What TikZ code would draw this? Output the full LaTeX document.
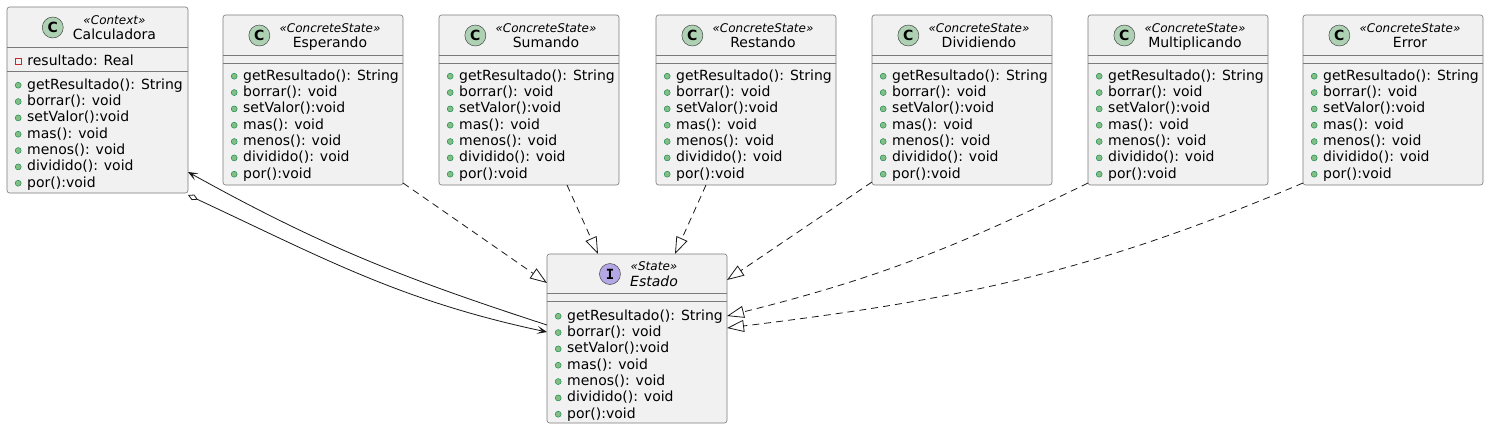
\documentclass[tikz,border=0pt]{standalone}
\usepackage{fontspec}
\setmainfont{DejaVu Sans}
\setmonofont{DejaVu Sans Mono}
\usetikzlibrary{arrows.meta, positioning, calc}
\definecolor{borde}{HTML}{181818}
\definecolor{bordecaja}{HTML}{7A7A7A}
\definecolor{fondo}{HTML}{F1F1F1}
\definecolor{verdeclase}{HTML}{ADD1B2}
\definecolor{lilainterfaz}{HTML}{B4A7E5}
\definecolor{verdepub}{HTML}{84BE84}
\definecolor{bordepub}{HTML}{038048}
\definecolor{rojopriv}{HTML}{C82930}
\tikzset{
    caja/.style = {draw=bordecaja, fill=fondo, line width=0.6pt, rounded corners=2.5pt, rectangle, minimum width=180pt, outer sep=0pt, inner sep=0pt},
    linea/.style = {draw=bordecaja, line width=0.6pt},
    estereo/.style = {font=\fontsize{12}{14}\selectfont\itshape, inner sep=0pt, anchor=base},
    nombre/.style = {font=\fontsize{14}{16}\selectfont, inner sep=0pt, anchor=base},
    clase/.style = {circle, draw=borde!80, line width=0.5pt, fill=verdeclase, minimum size=21pt, inner sep=0pt, font=\fontsize{14}{14}\selectfont\bfseries},
    interfaz/.style = {clase, fill=lilainterfaz, font=\fontsize{14}{14}\selectfont\ttfamily\bfseries},
    miembros/.style = {font=\fontsize{14}{16.33}\selectfont, align=left, inner sep=0pt, anchor=north west},
    asocia/.style = {draw=borde, line width=0.8pt},
    realiza/.style = {asocia, dash pattern=on 7pt off 5pt, -{Triangle[open, length=17pt, width=12pt]}}
}
\newcommand{\publico}{\tikz[baseline=-4pt]\draw[draw=bordepub, fill=verdepub, line width=0.4pt] (0pt,0pt) circle (3pt);\hspace{5.8pt}}
\newcommand{\privado}{\tikz[baseline=-4pt]\draw[draw=rojopriv, line width=0.6pt] (-3pt,-3pt) rectangle (3pt,3pt);\hspace{5.8pt}}
\newcommand{\metodos}{\publico getResultado(): String\\ \publico borrar(): void\\ \publico setValor():void\\ \publico mas(): void\\ \publico menos(): void\\ \publico dividido(): void\\ \publico por():void}

\begin{document}
\begin{tikzpicture}[>={Stealth[length=10pt, width=8pt, inset=5pt]}]
    \useasboundingbox (0pt,0pt) rectangle (1489pt,-429pt);
    % Cajas
    \node [caja, minimum width=181pt, minimum height=186pt, anchor=north west] (calculadora) at (7pt,-7pt) {};
    \node [caja, minimum height=170pt, right=35pt of calculadora] (esperando) {};
    \node [caja, minimum height=170pt, right=36pt of esperando] (sumando) {};
    \node [caja, minimum height=170pt, right=37pt of sumando] (restando) {};
    \node [caja, minimum height=170pt, right=36pt of restando] (dividiendo) {};
    \node [caja, minimum height=170pt, right=36pt of dividiendo] (multiplicando) {};
    \node [caja, minimum height=170pt, right=35pt of multiplicando] (error) {};
    \node [caja, minimum height=169pt, anchor=north west] (estado) at (547pt,-254pt) {};

    % Calculadora
    \node [estereo] (calculadora-est) at ([xshift=17pt, yshift=-17pt]calculadora.north) {«Context»};
    \node [nombre] (calculadora-nom) at ([xshift=17pt, yshift=-32.5pt]calculadora.north) {Calculadora};
    \node [clase] (calculadora-ico) at ($(calculadora-nom.west |- calculadora.north)+(-20pt,-20.5pt)$) {C};
    \draw [linea] ([yshift=-40pt]calculadora.north west) -- ([yshift=-40pt]calculadora.north east);
    \node [miembros] (calculadora-atr) at ([xshift=7.8pt, yshift=-47.4pt]calculadora.north west) {\privado resultado: Real};
    \draw [linea] ([yshift=-64pt]calculadora.north west) -- ([yshift=-64pt]calculadora.north east);
    \node [miembros] (calculadora-met) at ([xshift=7.8pt, yshift=-71.4pt]calculadora.north west) {\metodos};

    % Esperando
    \node [estereo] (esperando-est) at ([xshift=17pt, yshift=-17pt]esperando.north) {«ConcreteState»};
    \node [nombre] (esperando-nom) at ([xshift=17pt, yshift=-32.5pt]esperando.north) {Esperando};
    \node [clase] (esperando-ico) at ($(esperando-est.west |- esperando.north)+(-20pt,-20.5pt)$) {C};
    \draw [linea] ([yshift=-40.5pt]esperando.north west) -- ([yshift=-40.5pt]esperando.north east);
    \draw [linea] ([yshift=-48.5pt]esperando.north west) -- ([yshift=-48.5pt]esperando.north east);
    \node [miembros] (esperando-met) at ([xshift=7.8pt, yshift=-54.4pt]esperando.north west) {\metodos};

    % Sumando
    \node [estereo] (sumando-est) at ([xshift=17pt, yshift=-17pt]sumando.north) {«ConcreteState»};
    \node [nombre] (sumando-nom) at ([xshift=17pt, yshift=-32.5pt]sumando.north) {Sumando};
    \node [clase] (sumando-ico) at ($(sumando-est.west |- sumando.north)+(-20pt,-20.5pt)$) {C};
    \draw [linea] ([yshift=-40.5pt]sumando.north west) -- ([yshift=-40.5pt]sumando.north east);
    \draw [linea] ([yshift=-48.5pt]sumando.north west) -- ([yshift=-48.5pt]sumando.north east);
    \node [miembros] (sumando-met) at ([xshift=7.8pt, yshift=-54.4pt]sumando.north west) {\metodos};

    % Restando
    \node [estereo] (restando-est) at ([xshift=17pt, yshift=-17pt]restando.north) {«ConcreteState»};
    \node [nombre] (restando-nom) at ([xshift=17pt, yshift=-32.5pt]restando.north) {Restando};
    \node [clase] (restando-ico) at ($(restando-est.west |- restando.north)+(-20pt,-20.5pt)$) {C};
    \draw [linea] ([yshift=-40.5pt]restando.north west) -- ([yshift=-40.5pt]restando.north east);
    \draw [linea] ([yshift=-48.5pt]restando.north west) -- ([yshift=-48.5pt]restando.north east);
    \node [miembros] (restando-met) at ([xshift=7.8pt, yshift=-54.4pt]restando.north west) {\metodos};

    % Dividiendo
    \node [estereo] (dividiendo-est) at ([xshift=17pt, yshift=-17pt]dividiendo.north) {«ConcreteState»};
    \node [nombre] (dividiendo-nom) at ([xshift=17pt, yshift=-32.5pt]dividiendo.north) {Dividiendo};
    \node [clase] (dividiendo-ico) at ($(dividiendo-est.west |- dividiendo.north)+(-20pt,-20.5pt)$) {C};
    \draw [linea] ([yshift=-40.5pt]dividiendo.north west) -- ([yshift=-40.5pt]dividiendo.north east);
    \draw [linea] ([yshift=-48.5pt]dividiendo.north west) -- ([yshift=-48.5pt]dividiendo.north east);
    \node [miembros] (dividiendo-met) at ([xshift=7.8pt, yshift=-54.4pt]dividiendo.north west) {\metodos};

    % Multiplicando
    \node [estereo] (multiplicando-est) at ([xshift=17pt, yshift=-17pt]multiplicando.north) {«ConcreteState»};
    \node [nombre] (multiplicando-nom) at ([xshift=17pt, yshift=-32.5pt]multiplicando.north) {Multiplicando};
    \node [clase] (multiplicando-ico) at ($(multiplicando-est.west |- multiplicando.north)+(-20pt,-20.5pt)$) {C};
    \draw [linea] ([yshift=-40.5pt]multiplicando.north west) -- ([yshift=-40.5pt]multiplicando.north east);
    \draw [linea] ([yshift=-48.5pt]multiplicando.north west) -- ([yshift=-48.5pt]multiplicando.north east);
    \node [miembros] (multiplicando-met) at ([xshift=7.8pt, yshift=-54.4pt]multiplicando.north west) {\metodos};

    % Error
    \node [estereo] (error-est) at ([xshift=17pt, yshift=-17pt]error.north) {«ConcreteState»};
    \node [nombre] (error-nom) at ([xshift=17pt, yshift=-32.5pt]error.north) {Error};
    \node [clase] (error-ico) at ($(error-est.west |- error.north)+(-20pt,-20.5pt)$) {C};
    \draw [linea] ([yshift=-40.5pt]error.north west) -- ([yshift=-40.5pt]error.north east);
    \draw [linea] ([yshift=-48.5pt]error.north west) -- ([yshift=-48.5pt]error.north east);
    \node [miembros] (error-met) at ([xshift=7.8pt, yshift=-54.4pt]error.north west) {\metodos};

    % Estado
    \node [estereo] (estado-est) at ([xshift=17pt, yshift=-16pt]estado.north) {«State»};
    \node [nombre, font=\fontsize{14}{16}\selectfont\itshape] (estado-nom) at ([xshift=17pt, yshift=-32.5pt]estado.north) {Estado};
    \node [interfaz] (estado-ico) at ($(estado-nom.west |- estado.north)+(-20pt,-20pt)$) {I};
    \draw [linea] ([yshift=-39pt]estado.north west) -- ([yshift=-39pt]estado.north east);
    \draw [linea] ([yshift=-47pt]estado.north west) -- ([yshift=-47pt]estado.north east);
    \node [miembros] (estado-met) at ([xshift=7.8pt, yshift=-55.4pt]estado.north west) {\metodos};

    % Flechas
    \draw [asocia, <-] ([yshift=21pt]calculadora.south east) to [out=-29, in=162] ([yshift=-71pt]estado.north west);
    \draw [asocia, {Diamond[fill=white, length=11pt, width=6pt]}->] ([yshift=-2pt]calculadora.south east) to [out=-25, in=168] ([yshift=-78pt]estado.north west);
    \draw [realiza] ([yshift=2pt]esperando.south east) -- ([yshift=-29pt]estado.north west);
    \draw [realiza] ([xshift=38pt]sumando.south) -- ([xshift=-39pt]estado.north);
    \draw [realiza] ([xshift=-40pt]restando.south) -- ([xshift=38pt]estado.north);
    \draw [realiza] ([yshift=3pt]dividiendo.south west) -- ([yshift=-26pt]estado.north east);
    \draw [realiza] ([yshift=2pt]multiplicando.south west) to [out=206, in=14] ([yshift=-62pt]estado.north east);
    \draw [realiza] ([yshift=2pt]error.south west) to [out=203, in=7] ([yshift=-74pt]estado.north east);
\end{tikzpicture}
\end{document}
